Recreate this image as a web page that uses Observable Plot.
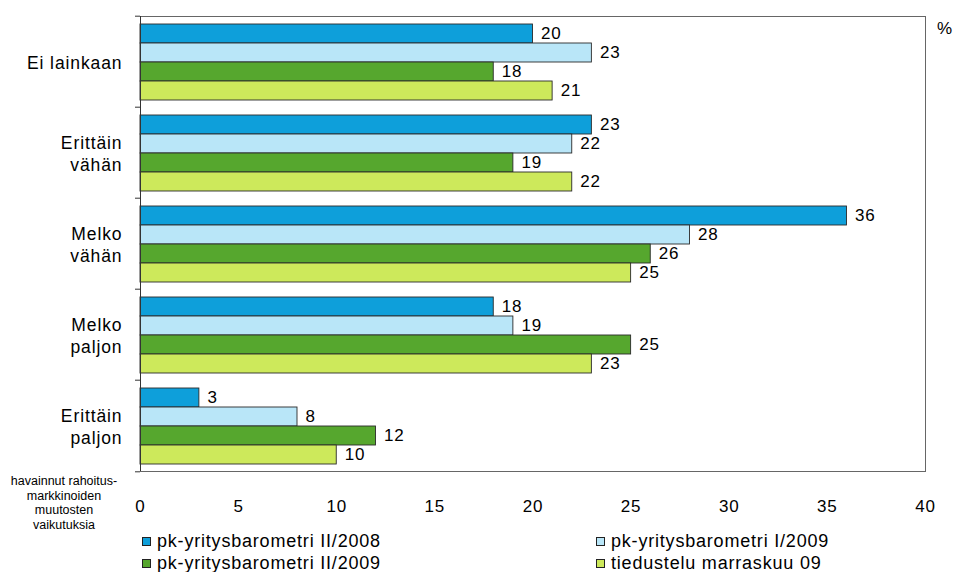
<!DOCTYPE html>
<html>
<head>
<meta charset="utf-8">
<script src="https://cdn.jsdelivr.net/npm/d3@7"></script>
<script src="https://cdn.jsdelivr.net/npm/@observablehq/plot@0.6"></script>
<style>
  body { margin: 0; background: #fff; font-family: "Liberation Sans", Arial, sans-serif; }
  #wrap { position: relative; width: 955px; height: 572px; }
  #chart svg { display: block; }
  .abs { position: absolute; color: #000; }
  .leg { position: absolute; display: flex; align-items: center; font-size: 18px; letter-spacing: 0.8px; white-space: nowrap; }
  .sw { width: 7px; height: 7px; border: 1px solid #222; margin-right: 6px; }
</style>
</head>
<body>
<div id="wrap">
  <div id="chart"></div>
</div>
<script>
const categories = ["Ei lainkaan", "Erittäin vähän", "Melko vähän", "Melko paljon", "Erittäin paljon"];
const categoryLabels = ["Ei lainkaan", "Erittäin\nvähän", "Melko\nvähän", "Melko\npaljon", "Erittäin\npaljon"];
const series = ["pk-yritysbarometri II/2008", "pk-yritysbarometri I/2009", "pk-yritysbarometri II/2009", "tiedustelu marraskuu 09"];
const colors = ["#0e9fda", "#b9e6f8", "#56a72e", "#cde95b"];
const values2008II = [20, 23, 36, 18, 3];
const values2009I = [23, 22, 28, 19, 8];
const values2009II = [18, 19, 26, 25, 12];
const valuesMarras09 = [21, 22, 25, 23, 10];
const xTicks = [0, 5, 10, 15, 20, 25, 30, 35, 40];

const seriesValues = [values2008II, values2009I, values2009II, valuesMarras09];
const rows = [];
categories.forEach((c, i) => {
  series.forEach((s, j) => rows.push({category: c, series: s, value: seriesValues[j][i]}));
});
const labelOf = new Map(categories.map((c, i) => [c, categoryLabels[i]]));

const font = "Liberation Sans, Arial, sans-serif";
const halfBand = (520 - 14 - 48) / categories.length / 2;

const chart = Plot.plot({
  width: 955,
  height: 520,
  marginLeft: 140,
  marginRight: 30,
  marginTop: 14,
  marginBottom: 48,
  style: {fontFamily: font, fontSize: "17px", letterSpacing: "0.9px", color: "#000", background: "#fff"},
  x: {domain: [0, 40], ticks: xTicks, tickSize: 0, tickPadding: 28, label: null, tickFormat: d => d},
  y: {domain: series, paddingInner: 0, paddingOuter: 0.28, axis: null},
  fy: {domain: categories, padding: 0, axis: null, label: null},
  color: {domain: series, range: colors},
  marks: [
    Plot.frame({facet: "super", stroke: "#666", strokeWidth: 1}),
    Plot.barX(rows, {x: "value", y: "series", fy: "category", fill: "series", stroke: "#2a2a2a", strokeWidth: 0.9}),
    Plot.text(rows, {x: "value", y: "series", fy: "category", text: d => String(d.value), dx: 8, textAnchor: "start", fontSize: 17, fill: "#000"}),
    Plot.ruleX([0], {stroke: "#333", strokeWidth: 1}),
    Plot.axisFy({anchor: "left", tickSize: 0, tickPadding: 18, fontSize: 17.5, lineHeight: 1.25, tickFormat: d => labelOf.get(d), label: null}),
    Plot.axisFy({anchor: "left", tickSize: 5, text: null, dy: -halfBand, stroke: "#333", label: null}),
    Plot.axisFy({anchor: "left", ticks: [categories[categories.length - 1]], tickSize: 5, text: null, dy: halfBand, stroke: "#333", label: null})
  ]
});
document.getElementById("chart").appendChild(chart);

const wrap = d3.select("#wrap");
wrap.append("div").attr("class", "abs")
  .style("left", "937px").style("top", "19px").style("font-size", "17px")
  .text("%");
wrap.append("div").attr("class", "abs")
  .style("left", "4px").style("top", "474px").style("width", "120px")
  .style("text-align", "center").style("font-size", "12.5px").style("line-height", "14.5px")
  .html("havainnut rahoitus-<br>markkinoiden<br>muutosten<br>vaikutuksia");

const legPos = [[142, 531], [596, 531], [142, 553], [596, 553]];
series.forEach((s, j) => {
  const item = wrap.append("div").attr("class", "leg")
    .style("left", legPos[j][0] + "px").style("top", legPos[j][1] + "px").style("height", "20px");
  item.append("div").attr("class", "sw").style("background", colors[j]);
  item.append("span").text(s);
});
</script>
</body>
</html>
